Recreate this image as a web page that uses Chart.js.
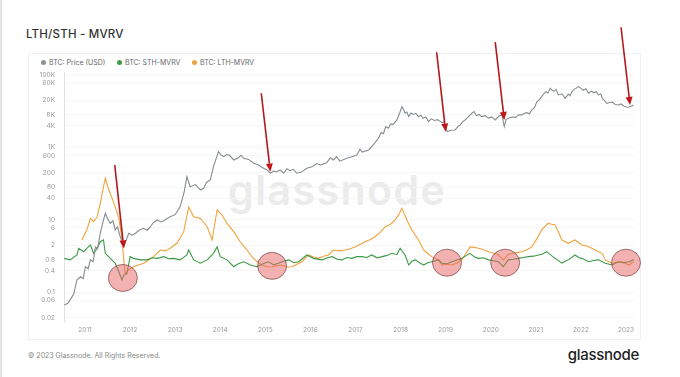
<!DOCTYPE html>
<html>
<head>
  <title>LTH/STH - MVRV</title>
  <script src="https://cdn.jsdelivr.net/npm/chart.js"></script>
  <style>
    body {
      margin: 0;
      width: 680px;
      height: 377px;
      background: #fff;
      font-family: Inter, "Open Sans", sans-serif;
      position: relative;
      overflow: hidden;
      border-left: 2px solid #e4e4e4;
      box-sizing: border-box;
    }
    .title {
      position: absolute;
      left: 24px;
      top: 27px;
      font-size: 11.5px;
      font-weight: 500;
      color: #333;
      letter-spacing: 0.2px;
    }
    .card {
      position: absolute;
      left: 26px;
      top: 53px;
      width: 613px;
      height: 287px;
      border: 1px solid #f1f1f1;
      box-sizing: border-box;
    }
    .legend {
      position: absolute;
      top: 58px;
      font-size: 7px;
      color: #666;
      white-space: nowrap;
    }
    .legend i {
      display: inline-block;
      width: 5px;
      height: 5px;
      border-radius: 50%;
      margin-right: 3px;
      vertical-align: 0px;
    }
    .watermark {
      position: absolute;
      left: 226px;
      top: 170px;
      font-size: 41px;
      line-height: 41px;
      font-weight: 600;
      letter-spacing: 1.5px;
      color: #ebebeb;
    }
    #chartBox {
      position: absolute;
      left: 26px;
      top: 0px;
      width: 613px;
      height: 340px;
    }
    .copy {
      position: absolute;
      left: 26px;
      top: 351px;
      font-size: 7px;
      color: #888;
    }
    .logo {
      position: absolute;
      right: 41px;
      top: 345px;
      font-size: 15px;
      font-weight: 500;
      color: #1e1e1e;
      letter-spacing: -0.3px;
    }
  </style>
</head>
<body>
  <div class="title">LTH/STH - MVRV</div>
  <div class="card"></div>
  <div class="watermark">glassnode</div>
  <div class="legend" style="left:39px"><i style="background:#8b9196"></i>BTC: Price (USD)</div>
  <div class="legend" style="left:115px"><i style="background:#3d9a47"></i>BTC: STH-MVRV</div>
  <div class="legend" style="left:190px"><i style="background:#f0a23c"></i>BTC: LTH-MVRV</div>
  <div id="chartBox"><canvas id="mvrvChart"></canvas></div>
  <div class="copy">© 2023 Glassnode. All Rights Reserved.</div>
  <div class="logo">glassnode</div>

  <script>
    // values (x = decimal year)
    const priceYears = [2010.54, 2010.62, 2010.67, 2010.75, 2010.82, 2010.90, 2010.96, 2011.01, 2011.07, 2011.12, 2011.18, 2011.23, 2011.28, 2011.34, 2011.40, 2011.45, 2011.50, 2011.56, 2011.62, 2011.67, 2011.72, 2011.78, 2011.86, 2011.92, 2011.97, 2012.05, 2012.12, 2012.20, 2012.30, 2012.38, 2012.45, 2012.52, 2012.60, 2012.68, 2012.75, 2012.82, 2012.89, 2013.00, 2013.11, 2013.20, 2013.26, 2013.33, 2013.45, 2013.56, 2013.63, 2013.70, 2013.78, 2013.85, 2013.96, 2014.02, 2014.08, 2014.14, 2014.20, 2014.30, 2014.40, 2014.46, 2014.52, 2014.63, 2014.74, 2014.85, 2014.96, 2015.04, 2015.11, 2015.18, 2015.25, 2015.33, 2015.41, 2015.48, 2015.55, 2015.62, 2015.70, 2015.80, 2015.92, 2016.05, 2016.14, 2016.22, 2016.36, 2016.44, 2016.51, 2016.58, 2016.65, 2016.81, 2016.92, 2017.03, 2017.10, 2017.15, 2017.29, 2017.40, 2017.46, 2017.51, 2017.57, 2017.62, 2017.67, 2017.73, 2017.78, 2017.83, 2017.92, 2017.98, 2018.03, 2018.07, 2018.10, 2018.14, 2018.18, 2018.23, 2018.28, 2018.34, 2018.40, 2018.45, 2018.50, 2018.56, 2018.62, 2018.68, 2018.75, 2018.82, 2018.92, 2018.96, 2019.03, 2019.12, 2019.21, 2019.27, 2019.32, 2019.38, 2019.43, 2019.50, 2019.58, 2019.63, 2019.68, 2019.74, 2019.80, 2019.88, 2019.95, 2020.02, 2020.10, 2020.18, 2020.25, 2020.28, 2020.30, 2020.34, 2020.39, 2020.47, 2020.55, 2020.62, 2020.69, 2020.75, 2020.80, 2020.86, 2020.91, 2020.97, 2021.02, 2021.08, 2021.13, 2021.18, 2021.22, 2021.27, 2021.32, 2021.36, 2021.40, 2021.45, 2021.50, 2021.58, 2021.65, 2021.72, 2021.76, 2021.80, 2021.86, 2021.95, 2022.00, 2022.05, 2022.11, 2022.17, 2022.23, 2022.28, 2022.34, 2022.39, 2022.44, 2022.48, 2022.52, 2022.57, 2022.64, 2022.70, 2022.76, 2022.83, 2022.89, 2022.95, 2023.01, 2023.06, 2023.12, 2023.17];
    const priceValues = [0.045, 0.05, 0.062, 0.09, 0.22, 0.27, 0.24, 0.51, 0.45, 0.79, 0.7, 1.8, 1.6, 4.3, 9, 15.3, 11, 8.1, 9.5, 5.3, 6.5, 3.5, 1.8, 2.9, 4.3, 3.8, 4.3, 5.2, 5.9, 5.2, 6.5, 8.5, 10, 8.8, 9.5, 11, 12.3, 14, 23, 60, 157, 83, 95, 67, 75, 110, 127, 297, 770, 620, 561, 640, 620, 454, 520, 610, 506, 470, 368, 330, 268, 240, 195, 225, 215, 240, 195, 260, 230, 250, 195, 210, 268, 300, 360, 330, 380, 520, 454, 560, 420, 506, 560, 624, 900, 750, 859, 1200, 1500, 1807, 2600, 2400, 3800, 3410, 4500, 4300, 5780, 9000, 13480, 11000, 8900, 9500, 7130, 9000, 8200, 8800, 7130, 7800, 6400, 7000, 5190, 6200, 5600, 5900, 4870, 5200, 2750, 3000, 3060, 3800, 4200, 5200, 5780, 7000, 8850, 9800, 7600, 8200, 7130, 7600, 6500, 7000, 5780, 7400, 7960, 5000, 3780, 6000, 6440, 7000, 6800, 8000, 7960, 8900, 9200, 8600, 10940, 12500, 18000, 21000, 25500, 31000, 35000, 32000, 43500, 38000, 36000, 40000, 28400, 30500, 23000, 30000, 27000, 35000, 41000, 48100, 43000, 38000, 42000, 31600, 36000, 33000, 35000, 28400, 30000, 22000, 20000, 16700, 17500, 18000, 15500, 15000, 16000, 14000, 13200, 13000, 14000, 15000];

    const sthYears = [2010.54, 2010.67, 2010.82, 2010.86, 2010.97, 2011.04, 2011.12, 2011.19, 2011.27, 2011.34, 2011.41, 2011.45, 2011.56, 2011.67, 2011.75, 2011.82, 2011.86, 2011.93, 2012.00, 2012.08, 2012.23, 2012.37, 2012.50, 2012.60, 2012.75, 2012.86, 2012.97, 2013.11, 2013.26, 2013.30, 2013.41, 2013.56, 2013.71, 2013.85, 2013.93, 2014.00, 2014.15, 2014.30, 2014.40, 2014.52, 2014.67, 2014.81, 2014.95, 2015.07, 2015.18, 2015.29, 2015.40, 2015.52, 2015.63, 2015.74, 2015.92, 2016.07, 2016.26, 2016.38, 2016.48, 2016.60, 2016.70, 2016.81, 2016.92, 2017.03, 2017.14, 2017.25, 2017.36, 2017.48, 2017.59, 2017.70, 2017.81, 2017.92, 2017.99, 2018.10, 2018.18, 2018.25, 2018.33, 2018.42, 2018.51, 2018.60, 2018.69, 2018.84, 2018.92, 2019.03, 2019.14, 2019.25, 2019.36, 2019.54, 2019.64, 2019.73, 2019.84, 2019.95, 2020.06, 2020.17, 2020.28, 2020.39, 2020.50, 2020.61, 2020.72, 2020.84, 2020.95, 2021.06, 2021.15, 2021.24, 2021.34, 2021.43, 2021.58, 2021.65, 2021.72, 2021.87, 2021.95, 2022.02, 2022.17, 2022.28, 2022.39, 2022.54, 2022.69, 2022.83, 2022.95, 2023.06, 2023.17];
    const sthValues = [0.87, 0.79, 1.08, 1.65, 1.33, 1.65, 2.04, 1.2, 1.65, 2.5, 2.8, 1.2, 0.87, 0.64, 0.37, 0.22, 0.30, 0.33, 0.97, 0.87, 0.79, 0.79, 0.9, 0.87, 0.97, 0.85, 0.87, 0.79, 1.08, 1.48, 0.79, 0.64, 0.79, 1.2, 1.8, 0.97, 0.79, 0.51, 0.62, 0.70, 0.57, 0.51, 0.62, 0.70, 0.58, 0.64, 0.72, 0.79, 0.66, 0.70, 1.08, 0.87, 0.79, 0.9, 0.97, 0.82, 0.79, 0.92, 0.87, 0.97, 0.97, 0.92, 1.08, 0.9, 0.97, 1.05, 1.2, 1.1, 1.65, 1.08, 0.57, 0.72, 0.79, 0.66, 0.57, 0.66, 0.70, 0.79, 0.64, 0.62, 0.70, 0.78, 0.87, 1.2, 0.95, 0.87, 0.9, 0.79, 0.75, 0.70, 0.51, 0.79, 0.82, 0.87, 0.92, 0.97, 1.0, 1.08, 1.15, 1.33, 1.05, 0.87, 0.64, 0.72, 0.79, 1.08, 0.92, 0.87, 0.70, 0.76, 0.79, 0.64, 0.57, 0.70, 0.66, 0.70, 0.79];

    const lthYears = [2010.93, 2011.04, 2011.12, 2011.19, 2011.27, 2011.34, 2011.41, 2011.45, 2011.53, 2011.60, 2011.67, 2011.75, 2011.82, 2011.86, 2011.89, 2011.97, 2012.08, 2012.20, 2012.30, 2012.42, 2012.52, 2012.67, 2012.78, 2012.89, 2013.04, 2013.19, 2013.30, 2013.41, 2013.56, 2013.71, 2013.82, 2013.93, 2014.04, 2014.15, 2014.30, 2014.44, 2014.59, 2014.70, 2014.82, 2014.92, 2015.05, 2015.15, 2015.26, 2015.37, 2015.48, 2015.59, 2015.70, 2015.81, 2015.96, 2016.07, 2016.18, 2016.29, 2016.40, 2016.51, 2016.65, 2016.77, 2016.88, 2016.99, 2017.10, 2017.21, 2017.33, 2017.44, 2017.55, 2017.66, 2017.77, 2017.88, 2017.96, 2018.03, 2018.14, 2018.25, 2018.40, 2018.51, 2018.60, 2018.69, 2018.84, 2018.92, 2019.03, 2019.14, 2019.25, 2019.36, 2019.54, 2019.63, 2019.73, 2019.84, 2019.95, 2020.06, 2020.17, 2020.28, 2020.38, 2020.47, 2020.58, 2020.69, 2020.80, 2020.91, 2021.02, 2021.13, 2021.27, 2021.35, 2021.43, 2021.58, 2021.72, 2021.87, 2022.02, 2022.13, 2022.24, 2022.39, 2022.47, 2022.54, 2022.69, 2022.80, 2022.91, 2023.06, 2023.17];
    const lthValues = [2.8, 5.3, 11, 9, 12.3, 29, 83, 142, 67, 40, 23, 11, 3.1, 0.79, 0.33, 0.42, 0.51, 0.58, 0.64, 0.8, 0.97, 1.48, 1.4, 1.65, 2.27, 4.75, 23, 12.3, 11, 6.5, 2.8, 19, 13.7, 8, 4.75, 2.5, 1.5, 0.97, 0.7, 0.57, 0.5, 0.51, 0.55, 0.57, 0.5, 0.51, 0.6, 0.70, 1.08, 0.95, 0.87, 1.0, 1.08, 1.48, 1.4, 1.48, 1.6, 1.8, 2.1, 2.5, 2.9, 3.5, 4.6, 6.5, 7.5, 10, 14, 21, 10, 5.3, 2.8, 1.48, 1.2, 0.97, 0.79, 0.57, 0.6, 0.57, 0.65, 0.79, 1.8, 1.75, 1.65, 1.5, 1.33, 1.2, 1.08, 0.79, 1.1, 1.2, 1.25, 1.33, 1.5, 1.8, 3.0, 5.3, 8, 7.6, 7.3, 2.8, 2.27, 2.8, 2.04, 1.9, 1.65, 1.33, 1.2, 0.79, 0.64, 0.68, 0.70, 0.57, 0.70];

    const yTickValues = [0.02, 0.06, 0.1, 0.4, 0.8, 2, 6, 10, 40, 80, 200, 600, 1000, 4000, 8000, 20000, 60000, 100000];
    const xTickYears = [2011, 2012, 2013, 2014, 2015, 2016, 2017, 2018, 2019, 2020, 2021, 2022, 2023];

    // annotations, in data coordinates
    const circleYears = [2011.84, 2015.15, 2019.03, 2020.32, 2023.0];
    const circleValues = [0.25, 0.54, 0.66, 0.66, 0.66];
    const arrowStartYears = [2011.66, 2014.91, 2018.80, 2020.10, 2022.89];
    const arrowStartValues = [330, 31600, 429000, 811000, 2100000];
    const arrowTipYears = [2011.86, 2015.11, 2019.00, 2020.30, 2023.09];
    const arrowTipValues = [1.65, 216, 2750, 5780, 15000];

    function toPoints(xs, ys) {
      return xs.map((x, i) => ({ x: x, y: ys[i] }));
    }

    function tickLabel(v) {
      if (v >= 1000) return (v / 1000) + 'K';
      return String(v);
    }

    const annotationPlugin = {
      id: 'annotations',
      afterDatasetsDraw(chart) {
        const ctx = chart.ctx;
        const xs = chart.scales.x;
        const ys = chart.scales.y;
        ctx.save();
        circleYears.forEach((yr, i) => {
          const cx = xs.getPixelForValue(yr);
          const cy = ys.getPixelForValue(circleValues[i]);
          ctx.beginPath();
          ctx.ellipse(cx, cy, 14.5, 13.5, 0, 0, Math.PI * 2);
          ctx.fillStyle = 'rgba(232, 100, 100, 0.5)';
          ctx.fill();
          ctx.lineWidth = 0.8;
          ctx.strokeStyle = 'rgba(110, 50, 50, 0.8)';
          ctx.stroke();
        });
        arrowStartYears.forEach((yr, i) => {
          const x1 = xs.getPixelForValue(yr);
          const y1 = ys.getPixelForValue(arrowStartValues[i]);
          const x2 = xs.getPixelForValue(arrowTipYears[i]);
          const y2 = ys.getPixelForValue(arrowTipValues[i]);
          const ang = Math.atan2(y2 - y1, x2 - x1);
          const headLen = 8;
          const bx = x2 - headLen * Math.cos(ang);
          const by = y2 - headLen * Math.sin(ang);
          ctx.beginPath();
          ctx.moveTo(x1, y1);
          ctx.lineTo(bx, by);
          ctx.strokeStyle = '#b3191c';
          ctx.lineWidth = 1.6;
          ctx.stroke();
          ctx.beginPath();
          ctx.moveTo(x2, y2);
          ctx.lineTo(bx + 3.5 * Math.sin(ang), by - 3.5 * Math.cos(ang));
          ctx.lineTo(bx - 3.5 * Math.sin(ang), by + 3.5 * Math.cos(ang));
          ctx.closePath();
          ctx.fillStyle = '#c0161a';
          ctx.fill();
        });
        ctx.restore();
      }
    };

    const ctx = document.getElementById('mvrvChart').getContext('2d');
    const chart = new Chart(ctx, {
      type: 'line',
      data: {
        datasets: [{
          label: 'BTC: Price (USD)',
          data: toPoints(priceYears, priceValues),
          borderColor: '#858c92',
          borderWidth: 1.1,
          pointRadius: 0,
          fill: false
        }, {
          label: 'BTC: STH-MVRV',
          data: toPoints(sthYears, sthValues),
          borderColor: '#3d9a47',
          borderWidth: 1.1,
          pointRadius: 0,
          fill: false
        }, {
          label: 'BTC: LTH-MVRV',
          data: toPoints(lthYears, lthValues),
          borderColor: '#f0a23c',
          borderWidth: 1.1,
          pointRadius: 0,
          fill: false
        }]
      },
      options: {
        responsive: true,
        maintainAspectRatio: false,
        animation: false,
        layout: { padding: { top: 72, right: 6, left: 0, bottom: 0 } },
        plugins: {
          legend: { display: false },
          tooltip: { enabled: false }
        },
        scales: {
          x: {
            type: 'linear',
            bounds: 'data',
            min: 2010.534,
            max: 2023.2,
            afterBuildTicks: axis => { axis.ticks = xTickYears.map(v => ({ value: v })); },
            afterFit: axis => { axis.height = 18; },
            grid: { display: false, drawTicks: false },
            border: { display: false },
            ticks: {
              autoSkip: false,
              maxRotation: 0,
              padding: 4,
              color: '#999',
              font: { family: 'Inter', size: 6.5 },
              callback: v => String(v)
            }
          },
          y: {
            type: 'logarithmic',
            bounds: 'data',
            min: 0.0152,
            max: 122000,
            afterBuildTicks: axis => { axis.ticks = yTickValues.map(v => ({ value: v })); },
            afterFit: axis => { axis.width = 36; },
            grid: { color: '#f2f2f2', lineWidth: 0.8, drawTicks: false },
            border: { display: true, color: '#e2e2e2' },
            ticks: {
              autoSkip: false,
              padding: 9,
              color: '#999',
              font: { family: 'Inter', size: 6.5 },
              callback: v => tickLabel(v)
            }
          }
        }
      },
      plugins: [annotationPlugin]
    });
  </script>
</body>
</html>
